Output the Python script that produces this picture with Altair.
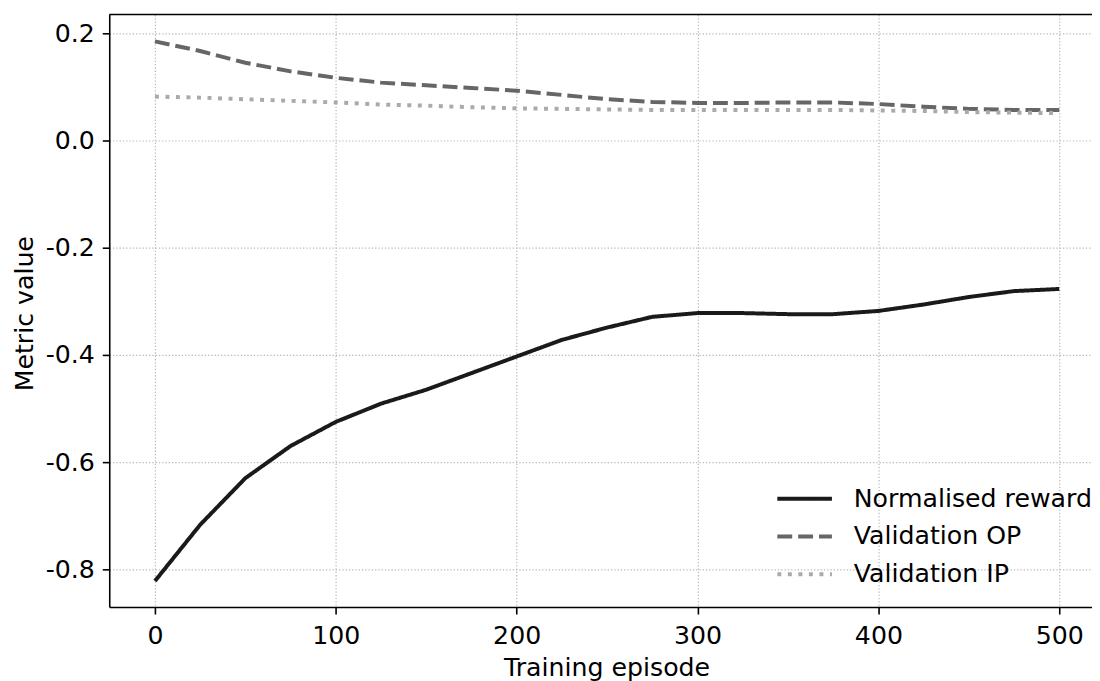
import altair as alt
import pandas as pd

episodes = list(range(0, 501, 25))
reward = [-0.822, -0.717, -0.630, -0.570, -0.525, -0.491, -0.465, -0.434, -0.403, -0.372,
          -0.349, -0.329, -0.322, -0.322, -0.324, -0.324, -0.318, -0.306, -0.292, -0.281, -0.277]
val_op = [0.185, 0.167, 0.145, 0.129, 0.117, 0.108, 0.103, 0.098, 0.093, 0.085,
          0.077, 0.072, 0.070, 0.070, 0.071, 0.071, 0.068, 0.063, 0.059, 0.057, 0.057]
val_ip = [0.082, 0.080, 0.077, 0.074, 0.071, 0.067, 0.065, 0.062, 0.060, 0.059,
          0.058, 0.057, 0.057, 0.057, 0.057, 0.057, 0.056, 0.055, 0.053, 0.052, 0.051]

series_names = ["Normalised reward", "Validation OP", "Validation IP"]
series_colors = ["#1a1a1a", "#666666", "#aaaaaa"]
series_dash = [[1, 0], [15, 6], [4, 6.6]]
x_ticks = [0, 100, 200, 300, 400, 500]
y_ticks = [-0.8, -0.6, -0.4, -0.2, 0.0, 0.2]

rows = []
for name, vals in zip(series_names, [reward, val_op, val_ip]):
    for e, v in zip(episodes, vals):
        rows.append({"episode": e, "value": v, "series": name})
df = pd.DataFrame(rows)

FONT = "DejaVu Sans"
FS = 25.4


def make_legend():
    return alt.Legend(title=None, orient="none", legendX=671, legendY=469,
                      symbolType="stroke", symbolSize=3025,
                      symbolStrokeWidth=4, labelFontSize=FS,
                      labelFont=FONT, labelColor="#000000", labelLimit=500,
                      labelOffset=20, rowPadding=0, clipHeight=37.8, padding=0)


lines = alt.Chart(df).mark_line(strokeWidth=4, strokeCap="butt", strokeJoin="round").encode(
    x=alt.X("episode:Q",
            scale=alt.Scale(domain=[-25.25, 518.1], nice=False, zero=False),
            axis=alt.Axis(values=x_ticks, title="Training episode",
                          titleX=501, titleY=68.5, titleAlign="center",
                          titleBaseline="alphabetic", labelPadding=10)),
    y=alt.Y("value:Q",
            scale=alt.Scale(domain=[-0.8705, 0.2352], nice=False, zero=False),
            axis=alt.Axis(values=y_ticks, title="Metric value",
                          labelExpr="(datum.value < -0.0001 ? '-' : '') + format(abs(datum.value), '.1f')",
                          titleX=-77, titleY=301, titleAngle=270, titleAlign="center",
                          titleBaseline="alphabetic", labelPadding=8)),
    color=alt.Color("series:N",
                    scale=alt.Scale(domain=series_names, range=series_colors),
                    legend=make_legend()),
    strokeDash=alt.StrokeDash("series:N",
                              scale=alt.Scale(domain=series_names, range=series_dash),
                              legend=make_legend()),
    order=alt.Order("episode:Q"),
)

top_border = alt.Chart(alt.Data(values=[{}])).mark_rule(color="#000000", strokeWidth=1.6).encode(
    x=alt.value(0), x2=alt.value(990), y=alt.value(0)
)

chart = alt.layer(lines, top_border).properties(
    width=990, height=597,
    autosize=alt.AutoSizeParams(type="none"),
    padding={"left": 102, "top": 4, "right": 0, "bottom": 72},
    background="white",
).configure_view(stroke=None).configure_axis(
    labelFont=FONT, titleFont=FONT, labelFontSize=FS, titleFontSize=FS,
    labelColor="#000000", titleColor="#000000", titleFontWeight="normal",
    domainColor="#000000", domainWidth=1.6, tickColor="#000000", tickWidth=1.6, tickSize=7,
    grid=True, gridColor="#b8b8b8", gridDash=[1.3, 2.0], gridWidth=1.2,
)

chart.save("out.html", embed_options={"renderer": "svg", "actions": False})
